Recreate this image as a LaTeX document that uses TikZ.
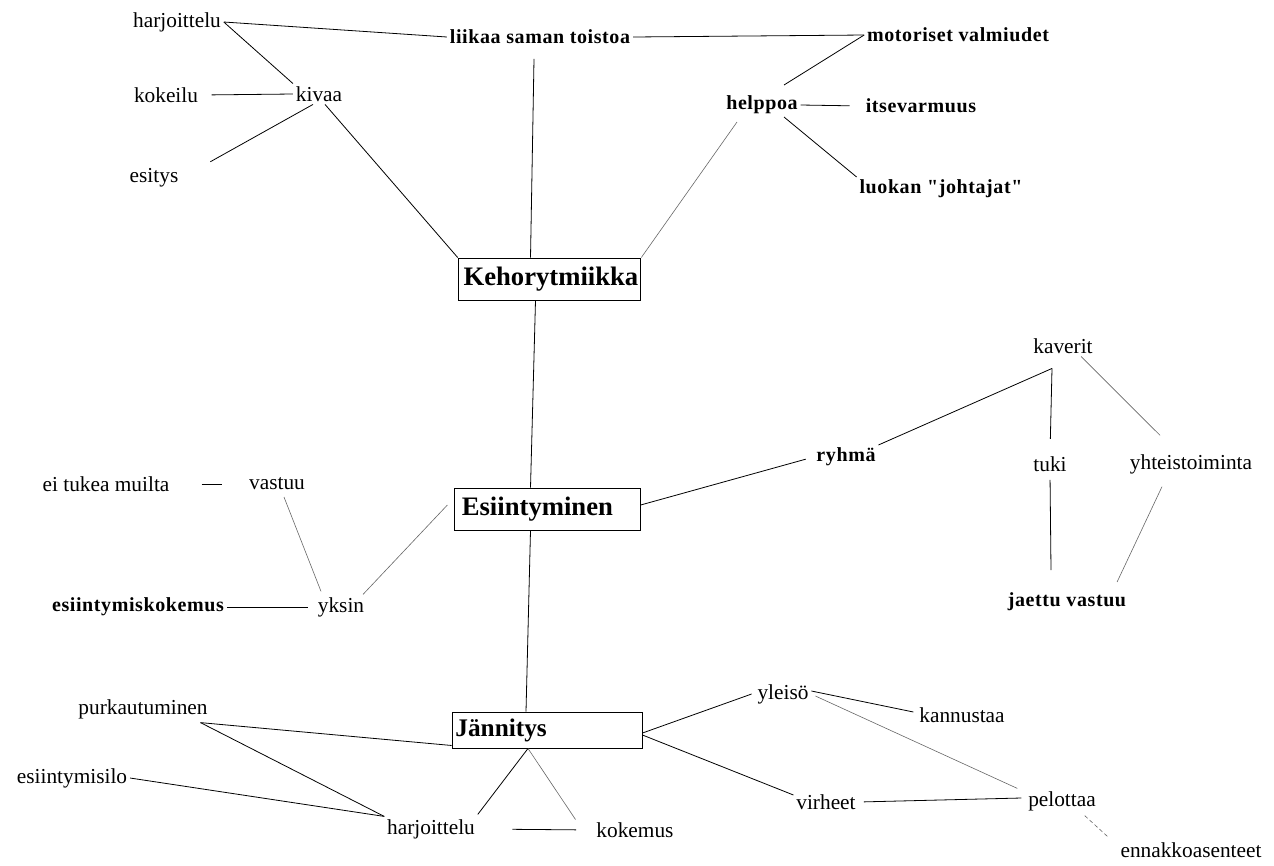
\documentclass[tikz,border=0pt]{standalone}
\usepackage{fontspec}
\setmainfont{Liberation Serif}
\newfontfamily\altfont[LetterSpace=3]{Liberation Serif}
\usetikzlibrary{calc}
\begin{document}
\begin{tikzpicture}[x=0.75pt,y=-0.75pt,
  lbl/.style={font=\fontsize{16}{19}\selectfont, inner sep=2pt},
  alt/.style={font=\altfont\bfseries\fontsize{15}{18}\selectfont, inner sep=2pt},
  hub/.style={draw, line width=0.7pt, inner ysep=0pt, align=left},
  link/.style={line width=0.6pt},
  faint/.style={line width=0.45pt, black!60},
]
\path[use as bounding box] (0,0) rectangle (1274,865);

% --- hubs
\node[hub, font=\bfseries\fontsize{20}{23}\selectfont, minimum height=31.5pt, inner xsep=4pt, text width=129pt] (keho) at (549.5,279) {Kehorytmiikka};
\node[hub, font=\bfseries\fontsize{20}{23}\selectfont, minimum height=31.5pt, inner xsep=5.25pt, text width=128.5pt] (esiin) at (547.5,509) {Esiintyminen};
\node[hub, font=\bfseries\fontsize{19}{22}\selectfont, minimum height=27pt, inner xsep=2.5pt, text width=137.5pt] (jann) at (547,730) {Jännitys};

% --- upper branch
\node[lbl] (harjA)   at (177,22)  {harjoittelu};
\node[alt] (liikaa)  at (540,37)  {liikaa saman toistoa};
\node[alt] (motor)   at (958,35)  {motoriset valmiudet};
\node[lbl] (kokeilu) at (166,95)  {kokeilu};
\node[lbl] (kivaa)   at (319,94)  {kivaa};
\node[alt] (helppoa) at (762,105) {helppoa};
\node[alt] (itsevar) at (921,106) {itsevarmuus};
\node[lbl] (esitys)  at (154,178) {esitys};
\node[alt] (luokan)  at (941,189) {luokan "johtajat"};

% --- middle branch
\node[lbl] (kaverit) at (1063,346) {kaverit};
\node[alt] (ryhma)   at (846,457) {ryhmä};
\node[lbl] (tuki)    at (1050,464) {tuki};
\node[lbl] (yhteis)  at (1191,464) {yhteistoiminta};
\node[lbl] (eitukea) at (106,484) {ei tukea muilta};
\node[lbl] (vastuu)  at (277,484) {vastuu};
\node[alt] (esikok)  at (138,607) {esiintymiskokemus};
\node[lbl] (yksin)   at (341,607) {yksin};
\node[alt] (jaettu)  at (1067,602) {jaettu vastuu};

% --- lower branch
\node[lbl] (yleiso)    at (783,694)  {yleisö};
\node[lbl] (kannustaa) at (962,715)  {kannustaa};
\node[lbl] (purk)      at (143,709)  {purkautuminen};
\node[lbl] (esilo)     at (72,778)   {esiintymisilo};
\node[lbl] (virheet)   at (826,802)  {virheet};
\node[lbl] (pelottaa)  at (1062,801) {pelottaa};
\node[lbl] (harjB)     at (431,829)  {harjoittelu};
\node[lbl] (kokemus)   at (635,830)  {kokemus};
\node[lbl] (ennakko)   at (1191,850) {ennakkoasenteet};

% --- connectors, upper branch
\draw[link] (harjA.east) -- (liikaa.west);
\draw[link] (harjA.east) -- (kivaa.north west);
\draw[link, shorten <=8pt] (kokeilu.east) -- (kivaa.west);
\draw[link, shorten >=25pt] (kivaa.-120) -- (esitys.east);
\draw[link] (kivaa.-60) -- (keho.north west);
\draw[link] ($(liikaa.south)+(-6,12)$) -- ($(keho.north)+(-19,0)$);
\draw[link] (liikaa.east) -- (motor.west);
\draw[link] (motor.west) -- ($(helppoa.north)+(22,-8)$);
\draw[link, shorten >=10pt] (helppoa.east) -- (itsevar.west);
\draw[link] ($(helppoa.south)+(22,0)$) -- (luokan.north west);
\draw[faint] ($(helppoa.south)+(-25,5)$) -- (keho.north east);

% --- spine
\draw[link] ($(keho.south)+(-14,0)$) -- ($(esiin.north)+(-17,0)$);
\draw[link] ($(esiin.south)+(-17,0)$) -- ($(jann.north)+(-21,0)$);

% --- connectors, middle branch
\coordinate (kv) at ($(kaverit.south)+(-11,12)$);
\draw[link, shorten >=6pt] ($(esiin.east)+(0,-4)$) -- (ryhma.west);
\draw[link] (ryhma.north east) -- (kv);
\draw[link, shorten >=11pt] (kv) -- (tuki.north);
\draw[faint] (kaverit.-30) -- ($(yhteis.north west)+(33,-16)$);
\draw[link, shorten <=4pt] (tuki.south) -- ($(jaettu.north)+(-16,-20)$);
\draw[faint] ($(yhteis.south)+(-29,10)$) -- ($(jaettu.north east)+(-12,-8)$);
\draw[link, shorten <=22pt, shorten >=18pt] (eitukea.east) -- (vastuu.west);
\draw[faint] ($(vastuu.south)+(7,4)$) -- ($(yksin.north)+(-20,-3)$);
\draw[faint] ($(yksin.north east)+(-4,0)$) -- ($(esiin.west)+(-7,-4)$);
\draw[link, shorten >=5pt] (esikok.east) -- (yksin.west);

% --- connectors, lower branch
\coordinate (pk) at ($(purk.south east)+(-10,1)$);
\coordinate (ja) at ($(jann.south)+(-19,0)$);
\draw[link] (pk) -- ($(jann.south west)+(0,-3)$);
\draw[link] (pk) -- (harjB.north west);
\draw[link] (esilo.east) -- (harjB.north west);
\draw[link] (ja) -- ($(harjB.north east)+(0,-2)$);
\draw[faint] (ja) -- ($(kokemus.north west)+(-18,0)$);
\draw[link, shorten <=26pt, shorten >=13pt] (harjB.east) -- (kokemus.west);
\draw[link] ($(jann.east)+(0,3)$) -- ($(yleiso.west)+(-3,0)$);
\draw[link] ($(jann.east)+(0,5)$) -- ($(virheet.west)+(0,-7)$);
\draw[link, shorten <=4pt] (virheet.east) -- ($(pelottaa.west)+(-4,-3)$);
\draw[link] ($(yleiso.east)+(0,-3)$) -- ($(kannustaa.west)+(-3,-3)$);
\draw[faint] ($(yleiso.east)+(4,2)$) -- ($(pelottaa.north west)+(-8,0)$);
\draw[faint, dash pattern=on 3pt off 2pt] ($(pelottaa.south east)+(-14,2)$) -- ($(ennakko.north west)+(-10,-3)$);
\end{tikzpicture}
\end{document}
